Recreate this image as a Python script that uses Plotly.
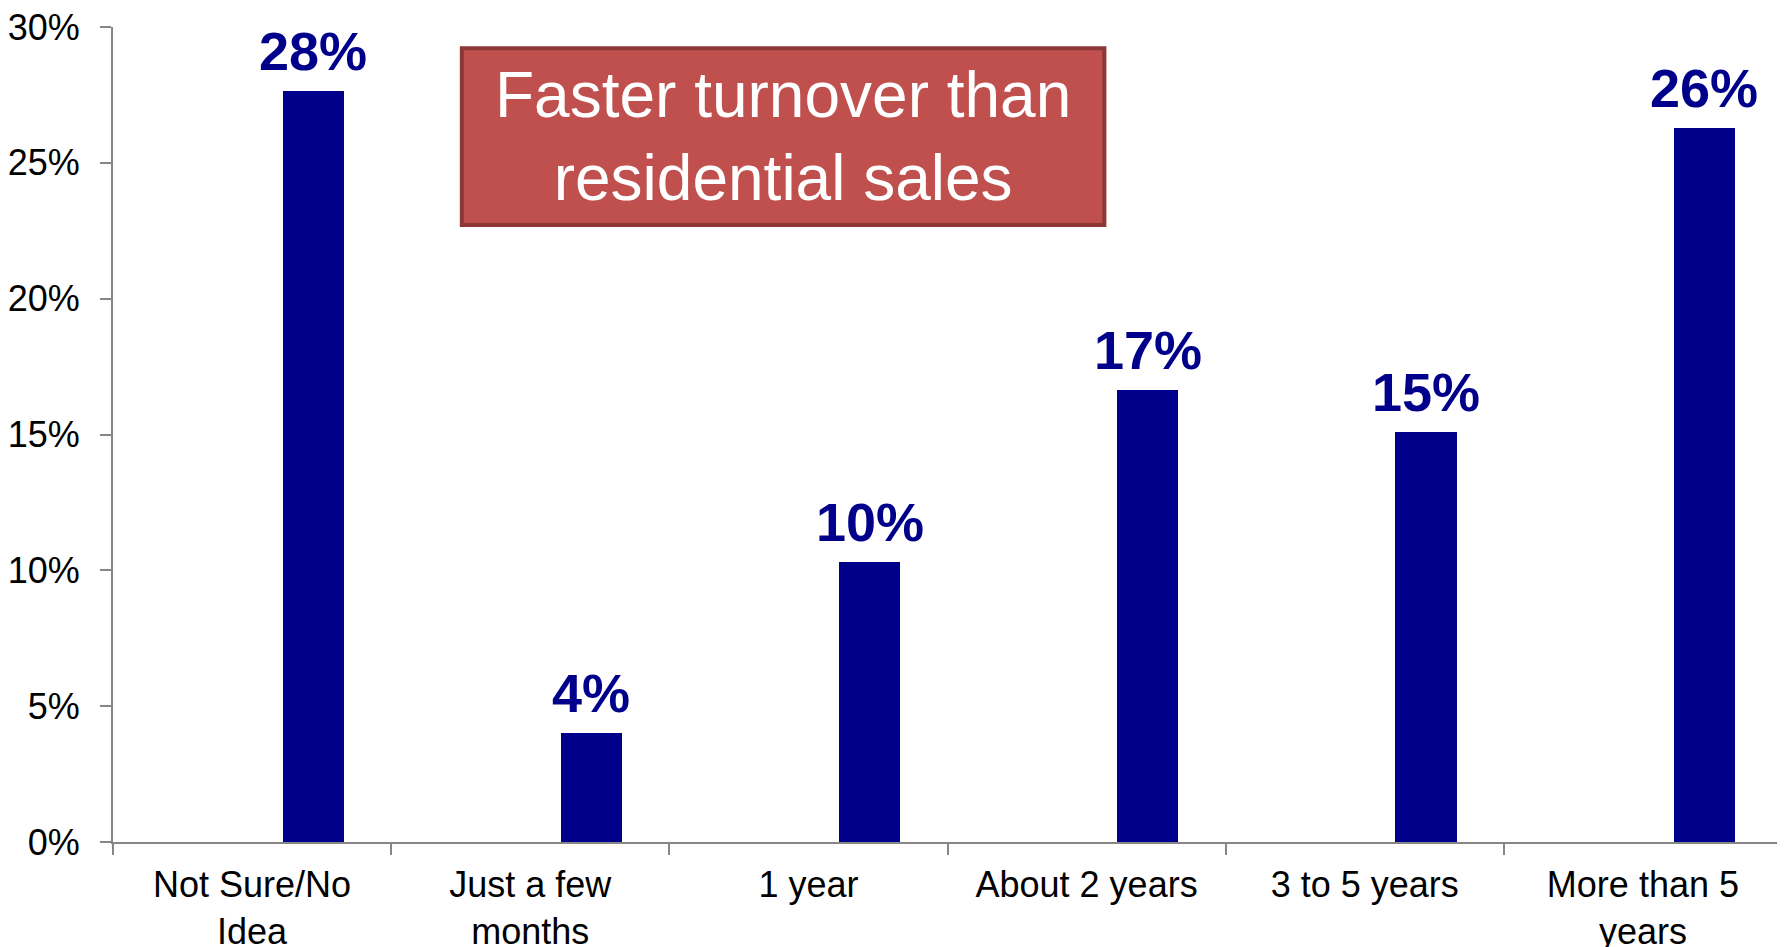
import plotly.graph_objects as go

categories = ["Not Sure/No<br>Idea", "Just a few<br>months", "1 year", "About 2 years", "3 to 5 years", "More than 5<br>years"]
values = [0.2765, 0.040, 0.103, 0.1663, 0.1508, 0.263]
labels = ["28%", "4%", "10%", "17%", "15%", "26%"]
y_ticks = [0, 0.05, 0.10, 0.15, 0.20, 0.25, 0.30]
y_tick_text = ["0%", "5%", "10%", "15%", "20%", "25%", "30%"]
callout = "Faster turnover than<br>residential sales"

BAR = "#00008B"
FONT = "Liberation Sans, Arial, sans-serif"

fig = go.Figure()
fig.add_trace(go.Bar(
    x=categories, y=values,
    marker=dict(color=BAR, line=dict(width=0)),
    width=0.22, offset=0.11,
    hoverinfo="skip",
))

for i, (v, t) in enumerate(zip(values, labels)):
    fig.add_annotation(x=i + 0.22, y=v, text=t, showarrow=False,
                       xref="x", yref="y", yanchor="bottom", yshift=8,
                       font=dict(family=FONT, size=54, color=BAR, weight="bold"))

fig.add_shape(type="rect", xref="paper", yref="paper",
              x0=0.209, x1=0.594, y0=0.757, y1=0.974,
              fillcolor="#C0504D", line=dict(color="#8C3836", width=4), layer="above")
fig.add_annotation(xref="paper", yref="paper", x=0.4015, y=0.866, text=callout,
                   showarrow=False, xanchor="center", yanchor="middle",
                   font=dict(family=FONT, size=64, color="white"))

fig.update_layout(
    width=1785, height=947,
    margin=dict(l=105, r=11, t=19, b=113, autoexpand=False),
    paper_bgcolor="white", plot_bgcolor="white",
    showlegend=False,
    font=dict(family=FONT, size=36, color="black"),
    bargap=0,
)
fig.update_xaxes(
    type="category", range=[-0.5, 5.5], automargin=False,
    tickson="boundaries",
    showline=True, linecolor="#868686", linewidth=2,
    ticks="outside", ticklen=11, tickcolor="#868686", tickwidth=2,
    showgrid=False, zeroline=False,
    tickfont=dict(family=FONT, size=36, color="black"),
    ticklabelstandoff=10, ticklabeloverflow="allow",
)
fig.update_yaxes(
    range=[0, 0.30], automargin=False,
    tickmode="array", tickvals=y_ticks, ticktext=y_tick_text,
    showline=True, linecolor="#868686", linewidth=2,
    ticks="outside", ticklen=11, tickcolor="#868686", tickwidth=2,
    showgrid=False, zeroline=False,
    tickfont=dict(family=FONT, size=36, color="black"),
    ticklabelstandoff=13, ticklabeloverflow="allow",
)

fig.write_html("out.html")
